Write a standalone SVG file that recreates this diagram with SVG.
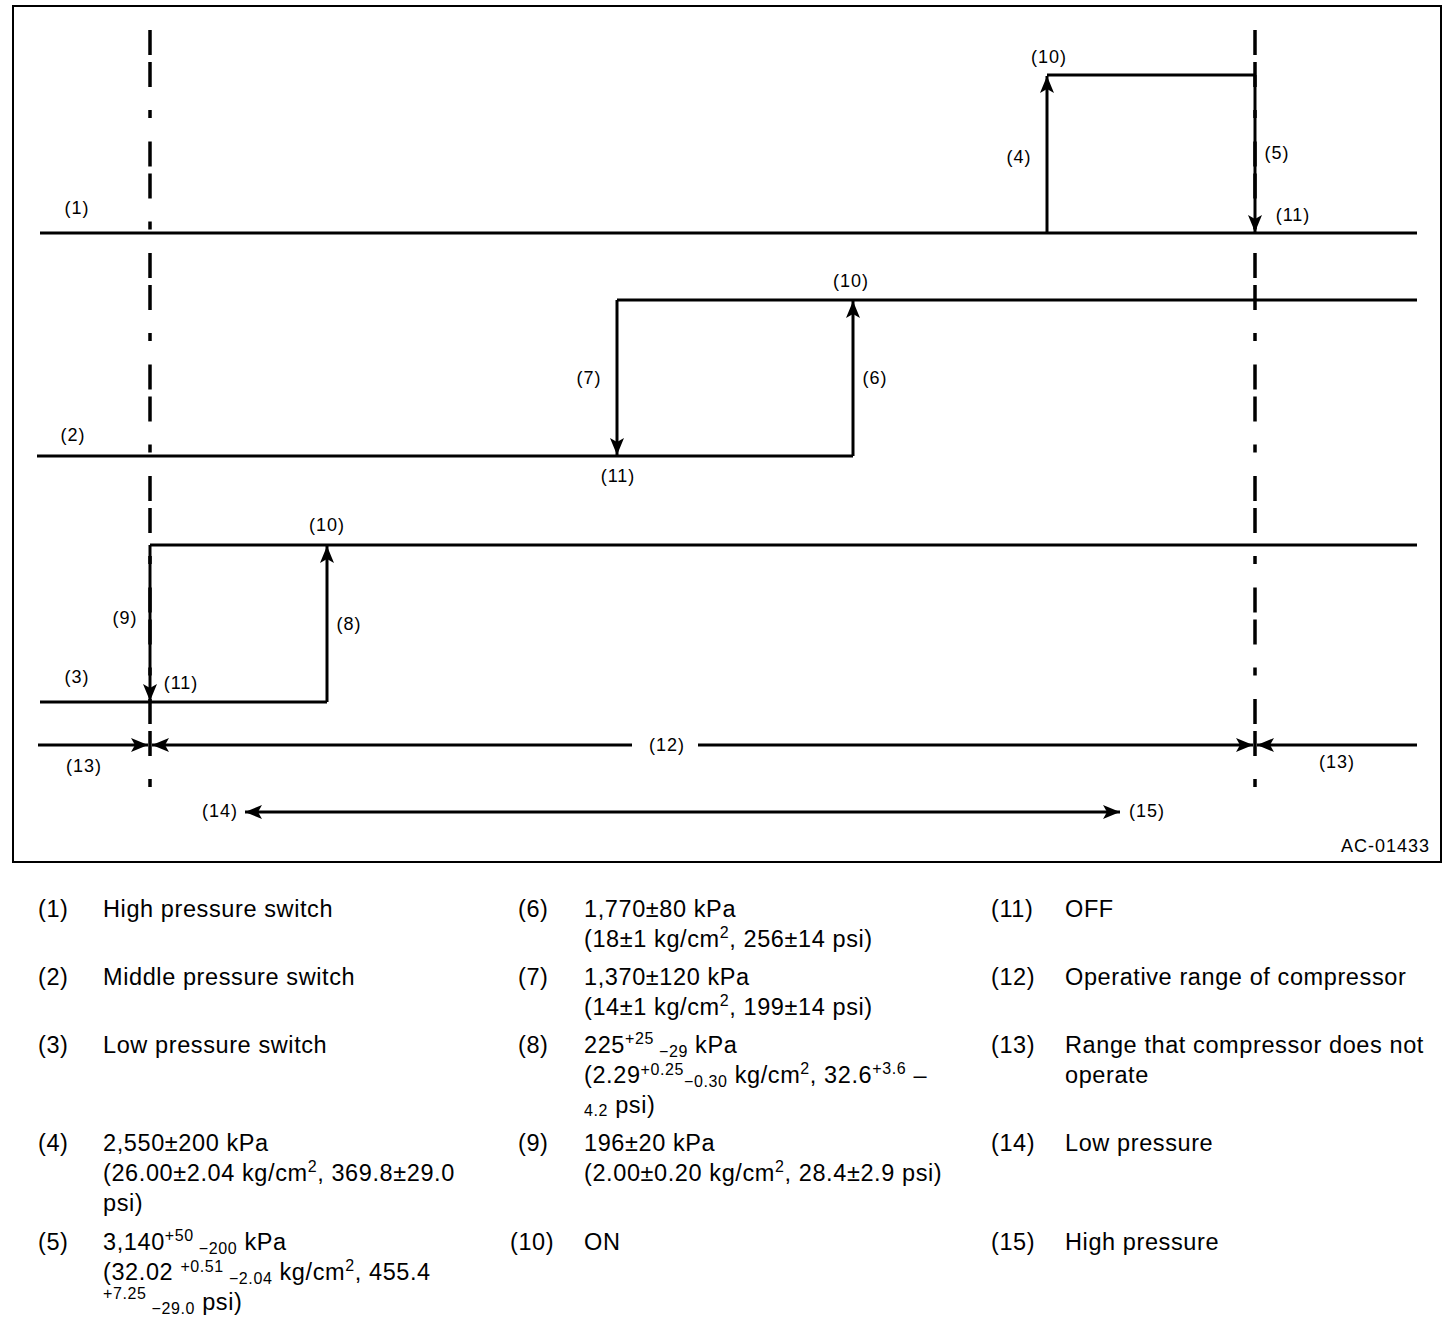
<svg xmlns="http://www.w3.org/2000/svg" width="1456" height="1332" viewBox="0 0 1456 1332">
<style>
.ln{stroke:#000;stroke-width:3;fill:none}
.dd{stroke:#000;stroke-width:3.5;fill:none;stroke-dasharray:25 7 25 23 8 23.5}
.lb{font-family:"Liberation Sans",Arial,sans-serif;font-size:18px;letter-spacing:1px;fill:#000;text-anchor:middle}
.lg{font-family:"Liberation Sans",Arial,sans-serif;font-size:23.5px;letter-spacing:0.6px;fill:#000}
.s{font-size:16px}
</style>
<defs>
<marker id="ah" markerUnits="userSpaceOnUse" markerWidth="18" markerHeight="14" refX="17" refY="7" orient="auto-start-reverse" viewBox="0 0 18 14">
<path d="M0,0 L17,7 L0,14 L4,7 z" fill="#000"/>
</marker>
</defs>
<rect x="0" y="0" width="1456" height="1332" fill="#fff"/>
<rect x="13" y="6" width="1428" height="856" fill="none" stroke="#000" stroke-width="2"/>
<g id="centerlines">
<line class="dd" x1="150" y1="30" x2="150" y2="795"/>
<line class="dd" x1="1255" y1="30" x2="1255" y2="800"/>
</g>
<g id="connectors">
<line class="ln" x1="40" y1="233" x2="1417" y2="233"/>
<line class="ln" x1="1047" y1="233" x2="1047" y2="76" marker-end="url(#ah)"/>
<line class="ln" x1="1047" y1="75" x2="1255" y2="75"/>
<line class="ln" x1="1255" y1="75" x2="1255" y2="232" marker-end="url(#ah)"/>
<line class="ln" x1="37" y1="456" x2="853" y2="456"/>
<line class="ln" x1="853" y1="456" x2="853" y2="301" marker-end="url(#ah)"/>
<line class="ln" x1="617" y1="300" x2="1417" y2="300"/>
<line class="ln" x1="617" y1="300" x2="617" y2="455" marker-end="url(#ah)"/>
<line class="ln" x1="40" y1="702" x2="327" y2="702"/>
<line class="ln" x1="327" y1="702" x2="327" y2="546" marker-end="url(#ah)"/>
<line class="ln" x1="150" y1="545" x2="1417" y2="545"/>
<line class="ln" x1="150" y1="545" x2="150" y2="701" marker-end="url(#ah)"/>
<line class="ln" x1="38" y1="745" x2="148" y2="745" marker-end="url(#ah)"/>
<line class="ln" x1="632" y1="745" x2="152" y2="745" marker-end="url(#ah)"/>
<line class="ln" x1="698" y1="745" x2="1253" y2="745" marker-end="url(#ah)"/>
<line class="ln" x1="1417" y1="745" x2="1257" y2="745" marker-end="url(#ah)"/>
<line class="ln" x1="245" y1="812" x2="1120" y2="812" marker-start="url(#ah)" marker-end="url(#ah)"/>
</g>
<g id="labels">
<text class="lb" x="1049" y="63">(10)</text>
<text class="lb" x="1019" y="163">(4)</text>
<text class="lb" x="1277" y="159">(5)</text>
<text class="lb" x="1293" y="221">(11)</text>
<text class="lb" x="77" y="214">(1)</text>
<text class="lb" x="851" y="287">(10)</text>
<text class="lb" x="589" y="384">(7)</text>
<text class="lb" x="875" y="384">(6)</text>
<text class="lb" x="73" y="441">(2)</text>
<text class="lb" x="618" y="482">(11)</text>
<text class="lb" x="327" y="531">(10)</text>
<text class="lb" x="125" y="624">(9)</text>
<text class="lb" x="349" y="630">(8)</text>
<text class="lb" x="77" y="683">(3)</text>
<text class="lb" x="181" y="689">(11)</text>
<text class="lb" x="84" y="772">(13)</text>
<text class="lb" x="667" y="751">(12)</text>
<text class="lb" x="1337" y="768">(13)</text>
<text class="lb" x="220" y="817">(14)</text>
<text class="lb" x="1147" y="817">(15)</text>
<text class="lb" x="1430" y="852" style="text-anchor:end">AC-01433</text>
</g>
<g id="legend">
<g id="leg1"><text class="lg" x="38" y="917">(1)</text><text class="lg" x="103" y="917">High pressure switch</text></g>
<g id="leg2"><text class="lg" x="38" y="985">(2)</text><text class="lg" x="103" y="985">Middle pressure switch</text></g>
<g id="leg3"><text class="lg" x="38" y="1053">(3)</text><text class="lg" x="103" y="1053">Low pressure switch</text></g>
<g id="leg4"><text class="lg" x="38" y="1151">(4)</text>
<text class="lg" x="103" y="1151">2,550±200 kPa</text>
<text class="lg" x="103" y="1181">(26.00±2.04 kg/cm<tspan class="s" dy="-9">2</tspan><tspan dy="9">, 369.8±29.0</tspan></text>
<text class="lg" x="103" y="1211">psi)</text></g>
<g id="leg5"><text class="lg" x="38" y="1250">(5)</text>
<text class="lg" x="103" y="1250">3,140<tspan class="s" dy="-9">+50</tspan><tspan class="s" dy="13"> −200</tspan><tspan dy="-4"> kPa</tspan></text>
<text class="lg" x="103" y="1280">(32.02 <tspan class="s" dy="-8">+0.51</tspan><tspan class="s" dy="12"> −2.04</tspan><tspan dy="-4"> kg/cm</tspan><tspan class="s" dy="-9">2</tspan><tspan dy="9">, 455.4</tspan></text>
<text class="lg" x="103" y="1310"><tspan class="s" dy="-11">+7.25</tspan><tspan class="s" dy="15"> −29.0</tspan><tspan dy="-4"> psi)</tspan></text></g>
<g id="leg6"><text class="lg" x="518" y="917">(6)</text>
<text class="lg" x="584" y="917">1,770±80 kPa</text>
<text class="lg" x="584" y="947">(18±1 kg/cm<tspan class="s" dy="-9">2</tspan><tspan dy="9">, 256±14 psi)</tspan></text></g>
<g id="leg7"><text class="lg" x="518" y="985">(7)</text>
<text class="lg" x="584" y="985">1,370±120 kPa</text>
<text class="lg" x="584" y="1015">(14±1 kg/cm<tspan class="s" dy="-9">2</tspan><tspan dy="9">, 199±14 psi)</tspan></text></g>
<g id="leg8"><text class="lg" x="518" y="1053">(8)</text>
<text class="lg" x="584" y="1053">225<tspan class="s" dy="-9">+25</tspan><tspan class="s" dy="13"> −29</tspan><tspan dy="-4"> kPa</tspan></text>
<text class="lg" x="584" y="1083">(2.29<tspan class="s" dy="-8">+0.25</tspan><tspan class="s" dy="12">−0.30</tspan><tspan dy="-4"> kg/cm</tspan><tspan class="s" dy="-9">2</tspan><tspan dy="9">, 32.6</tspan><tspan class="s" dy="-9">+3.6</tspan><tspan dy="9"> –</tspan></text>
<text class="lg" x="584" y="1113"><tspan class="s" dy="3">4.2</tspan><tspan dy="-3"> psi)</tspan></text></g>
<g id="leg9"><text class="lg" x="518" y="1151">(9)</text>
<text class="lg" x="584" y="1151">196±20 kPa</text>
<text class="lg" x="584" y="1181">(2.00±0.20 kg/cm<tspan class="s" dy="-9">2</tspan><tspan dy="9">, 28.4±2.9 psi)</tspan></text></g>
<g id="leg10"><text class="lg" x="510" y="1250">(10)</text><text class="lg" x="584" y="1250">ON</text></g>
<g id="leg11"><text class="lg" x="991" y="917">(11)</text><text class="lg" x="1065" y="917">OFF</text></g>
<g id="leg12"><text class="lg" x="991" y="985">(12)</text><text class="lg" x="1065" y="985">Operative range of compressor</text></g>
<g id="leg13"><text class="lg" x="991" y="1053">(13)</text><text class="lg" x="1065" y="1053">Range that compressor does not</text><text class="lg" x="1065" y="1083">operate</text></g>
<g id="leg14"><text class="lg" x="991" y="1151">(14)</text><text class="lg" x="1065" y="1151">Low pressure</text></g>
<g id="leg15"><text class="lg" x="991" y="1250">(15)</text><text class="lg" x="1065" y="1250">High pressure</text></g>
</g>
</svg>
